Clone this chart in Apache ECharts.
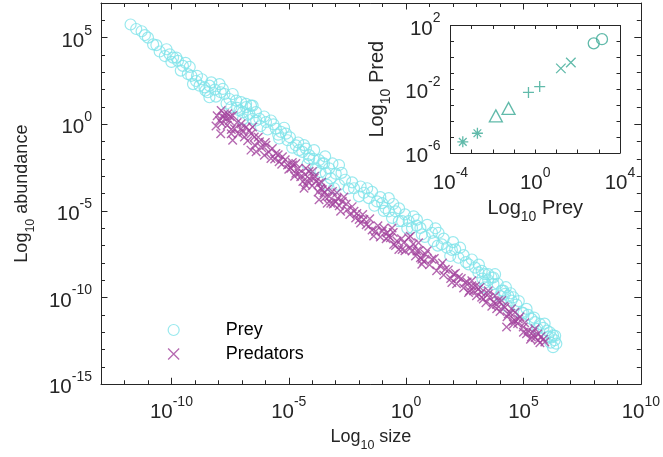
<!DOCTYPE html>
<html><head><meta charset="utf-8">
<script src="https://cdn.jsdelivr.net/npm/echarts@6/dist/echarts.min.js"></script>
<style>html,body{margin:0;padding:0;background:#fff}#c{width:663px;height:457px}</style>
</head><body><div id="c"></div><script>
// values are log10 exponents: [log10 size, log10 abundance]
const preyLog = [
[-11.74,5.76],[-11.27,5.37],[-11.13,5.15],[-10.78,4.61],[-10.64,4.57],[-10.21,4.33],[-10.28,3.94],[-10.07,4.04],[-9.93,3.85],[-9.79,3.85],[-9.72,3.66],[-9.51,3.37],[-9.22,3.31],[-9.30,2.90],[-9.15,2.80],[-8.91,2.80],[-9.08,2.32],[-8.80,2.23],[-8.59,2.13],[-8.38,2.23],[-8.30,2.42],[-8.45,1.85],[-8.38,1.56],[-7.95,2.32],[-7.81,2.04],[-7.74,1.75],[-7.53,1.46],[-7.39,1.75],[-7.24,1.37],[-7.03,1.28],[-6.82,0.99],[-6.54,1.08],[-7.10,0.80],[-6.68,0.61],[-6.39,0.22],
[-6.82,1.18],[-6.61,1.08],[-6.96,0.70],[-6.54,0.32],[-6.25,0.32],[-5.97,0.13],[-5.76,0.22],[-5.55,-0.25],[-5.33,-0.44],[-5.12,-0.54],[-5.41,-0.82],[-5.05,-0.92],[-4.70,-1.21],[-4.56,-1.49],[-4.27,-1.40],[-3.92,-1.49],[-4.13,-1.97],[-3.71,-2.07],[-3.50,-2.26],[-3.85,-2.54],[-3.28,-2.54],[-3.21,-3.12],[-3.36,-3.50],[-3.07,-3.69],
[-4.42,-1.59],[-4.13,-1.78],[-3.57,-2.26],[-3.14,-2.26],[-2.86,-2.35],[-3.42,-2.83],[-2.86,-3.50],[-2.22,-3.69],[-1.94,-3.59],[-1.66,-3.69],[-2.01,-4.16],[-1.59,-4.26],[-1.24,-4.45],[-1.02,-4.55],[-0.74,-4.26],[-0.88,-4.83],[-0.45,-5.02],[-0.60,-5.40],[-0.17,-5.59],[0.32,-5.31],[0.46,-5.50],[0.25,-5.98],[0.61,-5.98],[0.67,-6.36],
[-0.74,-5.02],[-0.31,-5.59],[0.11,-5.59],[1.10,-6.26],[1.38,-6.26],[1.17,-6.74],[1.52,-6.93],[1.74,-7.12],[2.09,-7.22],[2.30,-7.12],[1.88,-7.60],[2.23,-7.70],[2.66,-8.08],[2.94,-8.27],[3.08,-8.55],[3.36,-8.65],[3.64,-8.84],[3.79,-8.65],[3.36,-9.13],[3.72,-9.22],[4.14,-9.60],[4.35,-9.89],[4.57,-9.98],
[3.22,-8.46],[3.50,-8.65],[3.72,-8.84],[3.36,-9.41],[4.07,-9.60],[4.21,-9.79],[4.49,-10.17],[4.35,-10.56],[5.13,-10.65],[4.92,-10.85],[5.34,-11.23],[5.49,-11.41],[5.70,-11.52],[5.85,-11.75],[6.00,-11.90],[6.12,-12.00],[6.26,-12.18],[6.20,-12.30],[6.33,-12.46],[6.26,-12.86],[6.40,-12.66],
[-11.50,5.50],[-11.00,5.00],[-10.50,4.20],[-10.00,3.60],[-9.60,3.10],[-9.40,3.55],[-8.95,2.50],[-8.70,2.60],[-8.55,1.95],[-8.15,2.00],[-8.10,1.60],[-7.90,1.85],[-7.65,1.20],[-7.45,1.00],[-7.20,0.95],[-6.95,0.30],[-6.75,0.55],[-6.40,0.70],[-6.20,-0.10],[-6.05,0.45],[-5.90,-0.30],[-5.65,0.00],[-5.45,-0.60],[-5.20,-0.20],[-4.95,-0.75],[-4.85,-1.35],[-4.60,-1.05],[-4.35,-1.20],[-4.20,-2.30],[-3.95,-2.00],[-3.65,-2.75],[-3.45,-1.85],[-3.00,-2.85],[-2.75,-2.80],[-2.60,-3.20],[-2.45,-3.70],[-2.30,-3.35],[-1.80,-3.95],[-1.45,-3.90],[-1.35,-4.70],[-1.10,-4.20],[-0.95,-5.00],[-0.55,-4.60],[-0.30,-4.85],[-0.05,-5.20],[0.05,-6.00],[0.45,-5.85],[0.80,-6.50],[0.90,-5.80],[1.25,-6.00],[1.35,-7.00],[1.60,-6.60],[1.95,-7.25],[2.00,-6.80],[2.45,-7.55],[2.55,-7.95],[2.80,-7.80],[3.10,-8.10],[3.25,-8.90],[3.50,-9.00],[3.90,-9.20],[4.00,-9.90],[4.25,-9.40],[4.45,-9.75],[4.70,-10.40],[4.80,-10.20],[5.00,-10.90],[5.20,-11.00],[5.45,-11.15],[5.60,-11.80],[5.90,-11.50],[6.05,-12.25],[6.15,-12.60],[6.35,-12.20]
];
const predLog = [
[-7.88,0.80],[-7.74,0.61],[-7.95,0.22],[-7.53,0.22],[-7.31,-0.25],[-7.45,-0.54],[-7.39,-0.92],[-7.03,-0.25],[-6.82,-0.16],[-6.68,-0.35],[-6.89,-0.73],[-6.47,-0.73],[-6.25,-1.01],[-6.61,-1.49],[-6.39,-1.59],[-5.97,-1.21],[-6.04,-1.78],[-5.76,-1.97],[-5.55,-1.68],[-5.41,-2.16],[-5.27,-1.87],[-5.05,-2.35],[-4.91,-2.54],[-4.70,-2.26],[-4.70,-2.83],[-4.49,-3.02],[-4.27,-2.54],[-4.13,-3.12],[-3.99,-2.73],[-4.35,-3.69],[-3.85,-3.30],[-3.64,-3.69],[-3.50,-3.97],[-3.71,-4.36],[-3.28,-4.16],[-3.21,-4.55],[-3.00,-4.45],
[-7.81,0.42],[-7.60,0.61],[-7.39,0.51],[-7.03,0.03],[-6.54,-0.16],
[-4.84,-2.35],[-4.56,-2.83],[-4.13,-2.73],[-3.92,-3.12],[-4.27,-3.50],[-3.71,-3.40],[-3.57,-3.78],[-3.14,-3.88],[-2.93,-4.26],[-3.36,-4.55],[-2.72,-4.45],[-2.51,-4.93],[-2.79,-5.02],[-2.22,-5.02],[-2.15,-5.40],[-1.94,-5.69],[-1.80,-5.50],[-1.59,-5.88],[-1.30,-6.17],[-1.38,-6.45],[-1.02,-6.17],[-0.81,-6.26],[-0.60,-5.98],[-0.67,-6.55],[-0.39,-6.74],[-0.10,-6.84],[-0.31,-7.22],[0.11,-6.55],[0.18,-7.12],[0.46,-7.31],[0.61,-7.70],[0.67,-8.08],
[-0.74,-6.46],[-0.53,-6.93],[0.18,-6.46],[0.53,-6.84],[-0.17,-7.22],[0.25,-7.31],[0.82,-7.50],[1.10,-7.79],[0.67,-7.79],[1.45,-8.17],[1.67,-8.36],[2.02,-8.65],[2.23,-8.84],[1.95,-9.13],[2.52,-9.13],[2.80,-9.31],[3.15,-9.41],[2.66,-9.70],[3.50,-9.60],[3.22,-9.98],[3.79,-9.89],[4.07,-10.17],[4.21,-10.56],[4.49,-10.65],[4.64,-11.32],
[2.80,-9.03],[2.87,-9.60],[3.08,-9.51],[3.29,-10.08],[3.50,-9.79],[3.72,-10.27],[3.93,-10.17],[3.86,-10.65],[4.35,-10.94],[4.64,-10.85],[4.78,-11.23],[4.28,-11.70],[4.57,-11.52],[4.99,-11.70],[5.13,-12.08],[5.49,-11.80],[5.34,-12.27],[5.63,-12.46],[5.91,-12.56],
[-8.10,-0.10],[-8.05,0.50],[-7.90,-0.55],[-7.85,0.05],[-7.70,0.35],[-7.62,-0.05],[-7.50,0.45],[-7.45,-0.30],[-7.20,0.10],[-7.15,-0.55],[-6.95,-0.45],[-6.75,-0.95],[-6.60,-0.55],[-6.45,-1.20],[-6.30,-0.75],[-6.15,-1.35],[-6.00,-1.05],[-5.85,-1.60],[-5.70,-1.40],[-5.60,-2.00],[-5.45,-1.75],[-5.30,-2.30],[-5.15,-2.05],[-5.00,-2.60],[-4.85,-2.20],[-4.75,-3.00],[-4.60,-2.55],[-4.40,-3.30],[-4.30,-2.90],[-4.20,-3.30],[-4.00,-3.55],[-3.90,-3.00],[-3.75,-3.90],[-3.60,-3.35],[-3.45,-4.20],[-3.35,-3.75],[-3.10,-4.60],[-2.95,-3.95],[-2.85,-4.70],[-2.65,-4.20],[-2.55,-4.60],[-2.40,-5.20],[-2.30,-4.75],[-2.10,-5.15],[-2.00,-5.50],[-1.85,-5.20],[-1.70,-5.80],[-1.55,-5.45],[-1.45,-6.10],[-1.20,-5.85],[-1.10,-6.50],[-0.95,-6.00],[-0.85,-6.60],[-0.55,-6.25],[-0.45,-7.00],[-0.20,-6.60],[-0.05,-7.30],[0.30,-6.90],[0.40,-7.60],[0.55,-7.30],[0.75,-7.90],[0.90,-7.30],[1.00,-8.10],[1.20,-7.75],[1.30,-8.45],[1.55,-8.00],[1.60,-8.70],[1.80,-8.40],[1.90,-8.90],[2.10,-8.60],[2.15,-9.20],[2.35,-8.90],[2.45,-9.45],[2.60,-9.10],[2.70,-9.60],[2.95,-9.35],[3.00,-9.90],[3.20,-9.70],[3.40,-10.30],[3.55,-10.00],[3.65,-10.50],[3.85,-10.40],[4.00,-10.80],[4.15,-10.50],[4.30,-11.10],[4.45,-10.90],[4.55,-11.35],[4.75,-11.50],[4.85,-11.10],[5.00,-12.00],[5.05,-11.45],[5.20,-11.90],[5.30,-12.40],[5.40,-12.00],[5.50,-12.30],[5.60,-12.10],[5.70,-12.60],[5.75,-12.25],[5.85,-12.40]
];
// inset: [log10 prey, log10 pred]
const insetAsterisk = [[-3.42,-5.30],[-2.73,-4.76]];
const insetTriangle = [[-1.86,-3.67],[-1.26,-3.20]];
const insetPlus = [[-0.32,-2.20],[0.21,-1.83]];
const insetCross = [[1.21,-0.69],[1.68,-0.32]];
const insetCircle = [[2.76,0.88],[3.15,1.14]];
// tick label exponents
const mainXLabels = [-10,-5,0,5,10];
const mainYLabels = [-15,-10,-5,0,5];
const insetXLabels = [-4,0,4];
const insetYLabels = [-6,-2,2];

const FONT = "'Liberation Sans', Arial, Helvetica, sans-serif";
const AXC = '#262626';
const PREY_C = '#7fe3ea';
const PRED_C = '#a3449d';
const INSET_C = '#3aa995';
const XPATH = 'path://M0,0L10,10M10,0L0,10';
const PLUSPATH = 'path://M5,0L5,10M0,5L10,5';
const STARPATH = 'path://M5,0L5,10M0,5L10,5M1.5,1.5L8.5,8.5M8.5,1.5L1.5,8.5';

const SUP = {
  b: {fontSize:20.5, lineHeight:20.5, verticalAlign:'bottom', fontFamily:FONT, color:AXC},
  s: {fontSize:14, height:14, lineHeight:28, verticalAlign:'top', padding:[0,0,14,0], fontFamily:FONT, color:AXC}
};
const supFmt = v => '{b|10}{s|' + Math.round(v) + '}';
const SUB_MAIN = {
  r: {fontSize:18, lineHeight:18, verticalAlign:'top', fontFamily:FONT, color:AXC},
  sub: {fontSize:12.5, height:12.5, lineHeight:23.5, verticalAlign:'bottom', padding:[11,0,0,0], fontFamily:FONT, color:AXC}
};
const SUB_INSET = {
  r: {fontSize:20, lineHeight:20, verticalAlign:'top', fontFamily:FONT, color:AXC},
  sub: {fontSize:14, height:14, lineHeight:26, verticalAlign:'bottom', padding:[12,0,0,0], fontFamily:FONT, color:AXC}
};
const lineS = {color:AXC, width:1};

function ax(o){
  const a = {
    type:'value', gridIndex:o.grid, position:o.pos, min:o.min, max:o.max,
    axisLine:{show:o.line !== false, onZero:false, lineStyle:lineS},
    axisTick:{show:true, inside:true, length:o.len, lineStyle:lineS},
    axisLabel:{show:false},
    splitLine:{show:false}
  };
  if (o.ticks) a.axisTick.customValues = o.ticks; else a.interval = 1;
  if (o.labels){
    a.axisLabel = {show:true, customValues:o.labels, formatter:supFmt, margin:o.margin, rich:SUP, fontFamily:FONT, color:AXC};
  }
  if (o.name){
    a.name = o.name; a.nameLocation = 'middle'; a.nameGap = o.nameGap;
    a.nameTextStyle = {rich:o.rich, fontFamily:FONT, color:AXC};
  }
  return a;
}

const chart = echarts.init(document.getElementById('c'), null, {renderer:'canvas'});
chart.setOption({
  animation:false,
  backgroundColor:'#fff',
  grid:[
    {left:101, top:3, width:542, height:384.5},
    {left:450.5, top:25.5, width:169.5, height:127.5}
  ],
  xAxis:[
    ax({grid:0,pos:'bottom',min:-13,max:10,len:4,labels:mainXLabels,margin:10.5,
        name:'{r|Log}{sub|10}{r| size}',nameGap:44,rich:SUB_MAIN}),
    ax({grid:0,pos:'bottom',min:-13,max:10,len:6.5,ticks:mainXLabels,line:false}),
    ax({grid:0,pos:'top',min:-13,max:10,len:4}),
    ax({grid:0,pos:'top',min:-13,max:10,len:6.5,ticks:mainXLabels,line:false}),
    ax({grid:1,pos:'bottom',min:-4,max:4,len:3.5,labels:insetXLabels,margin:13,
        name:'{r|Log}{sub|10}{r| Prey}',nameGap:45,rich:SUB_INSET}),
    ax({grid:1,pos:'top',min:-4,max:4,len:3.5})
  ],
  yAxis:[
    ax({grid:0,pos:'left',min:-15,max:7,len:4,labels:mainYLabels,margin:9,
        name:'{r|Log}{sub|10}{r| abundance}',nameGap:64,rich:SUB_MAIN}),
    ax({grid:0,pos:'left',min:-15,max:7,len:6.5,ticks:mainYLabels,line:false}),
    ax({grid:0,pos:'right',min:-15,max:7,len:4}),
    ax({grid:0,pos:'right',min:-15,max:7,len:6.5,ticks:mainYLabels,line:false}),
    ax({grid:1,pos:'left',min:-6,max:2,len:3.5,labels:insetYLabels,margin:10,
        name:'{r|Log}{sub|10}{r| Pred}',nameGap:57,rich:SUB_INSET}),
    ax({grid:1,pos:'right',min:-6,max:2,len:3.5})
  ],
  legend:{
    orient:'vertical', left:167.5, top:321, padding:0, itemGap:6,
    itemWidth:11, itemHeight:11, selectedMode:false,
    textStyle:{fontSize:18, fontFamily:FONT, color:'#000', padding:[0,0,0,41.5]},
    data:[
      {name:'Prey', icon:'circle', itemStyle:{color:'rgba(0,0,0,0)', borderColor:PREY_C, borderWidth:1.2}},
      {name:'Predators', icon:XPATH, itemStyle:{color:'rgba(0,0,0,0)', borderColor:PRED_C, borderWidth:1.3}}
    ]
  },
  series:[
    {name:'Prey', type:'scatter', xAxisIndex:0, yAxisIndex:0, data:preyLog, symbol:'circle', symbolSize:11,
     itemStyle:{color:'rgba(0,0,0,0)', borderColor:PREY_C, borderWidth:1.2}, emphasis:{disabled:true}, z:2},
    {name:'Predators', type:'scatter', xAxisIndex:0, yAxisIndex:0, data:predLog, symbol:XPATH, symbolSize:8.5,
     itemStyle:{color:'rgba(0,0,0,0)', borderColor:PRED_C, borderWidth:1.4}, emphasis:{disabled:true}, z:3},
    {name:'i1', type:'scatter', xAxisIndex:4, yAxisIndex:4, data:insetAsterisk, symbol:STARPATH, symbolSize:11,
     itemStyle:{color:'rgba(0,0,0,0)', borderColor:INSET_C, borderWidth:1.3}, emphasis:{disabled:true}},
    {name:'i2', type:'scatter', xAxisIndex:4, yAxisIndex:4, data:insetTriangle, symbol:'triangle', symbolSize:[13,12],
     itemStyle:{color:'rgba(0,0,0,0)', borderColor:INSET_C, borderWidth:1.3}, emphasis:{disabled:true}},
    {name:'i3', type:'scatter', xAxisIndex:4, yAxisIndex:4, data:insetPlus, symbol:PLUSPATH, symbolSize:11,
     itemStyle:{color:'rgba(0,0,0,0)', borderColor:INSET_C, borderWidth:1.3}, emphasis:{disabled:true}},
    {name:'i4', type:'scatter', xAxisIndex:4, yAxisIndex:4, data:insetCross, symbol:XPATH, symbolSize:9.5,
     itemStyle:{color:'rgba(0,0,0,0)', borderColor:INSET_C, borderWidth:1.3}, emphasis:{disabled:true}},
    {name:'i5', type:'scatter', xAxisIndex:4, yAxisIndex:4, data:insetCircle, symbol:'circle', symbolSize:11,
     itemStyle:{color:'rgba(0,0,0,0)', borderColor:INSET_C, borderWidth:1.3}, emphasis:{disabled:true}}
  ]
});
</script></body></html>
